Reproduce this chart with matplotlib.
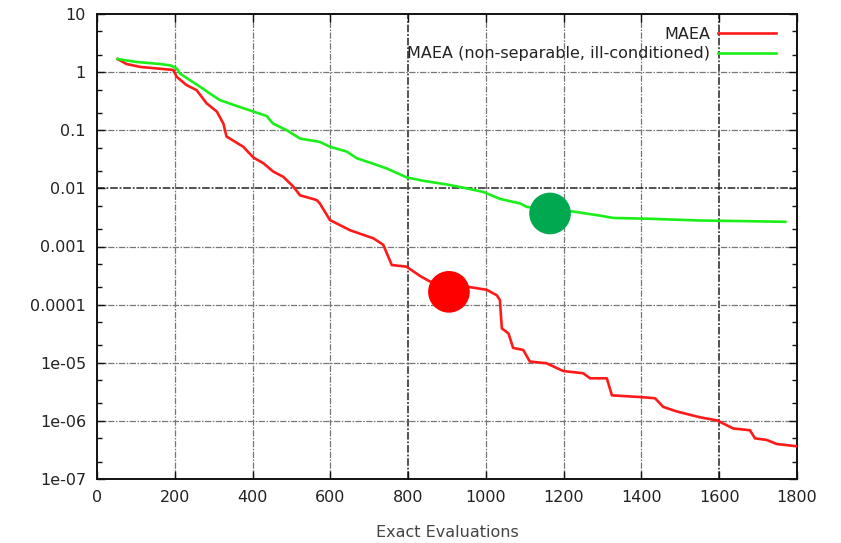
import matplotlib
matplotlib.use("Agg")
import matplotlib.pyplot as plt
from matplotlib.ticker import FixedLocator, NullFormatter

# Convergence traces: best error vs. number of exact evaluations
green_x = [53, 100, 162, 190, 205, 213, 240, 265, 290, 316, 340, 368, 402, 436, 453,
           488, 522, 573, 599, 642, 668, 700, 745, 796, 839, 899, 951, 993, 1036,
           1088, 1105, 1160, 1224, 1293, 1327, 1422, 1550, 1636, 1770]
green_y = [1.68, 1.5, 1.38, 1.3, 1.16, 0.95, 0.72, 0.56, 0.43, 0.33, 0.29, 0.25, 0.21,
           0.176, 0.13, 0.10, 0.072, 0.063, 0.052, 0.043, 0.033, 0.028, 0.022, 0.0155,
           0.0135, 0.0117, 0.010, 0.0087, 0.0066, 0.0055, 0.0048, 0.0043, 0.0040,
           0.0034, 0.0031, 0.0030, 0.0028, 0.00275, 0.00266]

red_x = [53, 76, 111, 196, 205, 230, 256, 282, 308, 325, 333, 376, 402, 428, 453, 479,
         505, 522, 565, 573, 599, 651, 711, 736, 758, 796, 831, 856, 959, 1002, 1028,
         1036, 1041, 1058, 1070, 1096, 1113, 1156, 1199, 1250, 1268, 1311, 1324, 1396,
         1435, 1456, 1491, 1551, 1594, 1636, 1679, 1692, 1722, 1748, 1800]
red_y = [1.68, 1.38, 1.23, 1.09, 0.83, 0.60, 0.49, 0.29, 0.21, 0.13, 0.078, 0.052,
         0.034, 0.027, 0.0195, 0.0158, 0.0107, 0.0076, 0.0063, 0.0055, 0.00285, 0.0019,
         0.00138, 0.00107, 0.00048, 0.00045, 0.00031, 0.00025, 0.0002, 0.00018,
         0.000145, 0.00012, 3.9e-5, 3.2e-5, 1.8e-5, 1.66e-5, 1.05e-5, 9.8e-6, 7.2e-6,
         6.6e-6, 5.4e-6, 5.4e-6, 2.75e-6, 2.57e-6, 2.45e-6, 1.74e-6, 1.45e-6, 1.15e-6,
         1.02e-6, 7.4e-7, 6.9e-7, 5.0e-7, 4.7e-7, 4.0e-7, 3.65e-7]

# Highlighted points
dot_x = [905, 1165]
dot_y = [1.66e-4, 3.7e-3]

series_labels = ["MAEA", "MAEA (non-separable, ill-conditioned)"]
x_ticks = [0, 200, 400, 600, 800, 1000, 1200, 1400, 1600, 1800]
y_ticks = [1e-7, 1e-6, 1e-5, 1e-4, 1e-3, 1e-2, 1e-1, 1, 10]
y_tick_labels = ["1e-07", "1e-06", "1e-05", "0.0001", "0.001", "0.01", "0.1", "1", "10"]
x_label = "Exact Evaluations"

plt.rcParams["font.family"] = ["DejaVu Sans"]
fig = plt.figure(figsize=(8.41, 5.43), dpi=100)
ax = fig.add_axes([97 / 841, 1 - 479 / 543, 700 / 841, 465 / 543])

ax.set_yscale("log")
ax.set_xlim(0, 1800)
ax.set_ylim(1e-7, 10)

# grid in dash-dot style
for xv in x_ticks[1:-1]:
    dark = xv in (800, 1600)
    ax.axvline(xv, color="#222" if dark else "#777", lw=1.1 if dark else 0.9,
               ls=(0, (5, 1.2, 1.2, 1.2)), zorder=1)
for yv in y_ticks[1:-1]:
    dark = yv == 1e-2
    ax.axhline(yv, color="#222" if dark else "#777", lw=1.1 if dark else 0.9,
               ls=(0, (5, 1.2, 1.2, 1.2)), zorder=1)

ax.plot(red_x, red_y, color="#ff1a1a", lw=1.9, label=series_labels[0], zorder=3)
ax.plot(green_x, green_y, color="#1aef1a", lw=1.9, label=series_labels[1], zorder=3)

ax.scatter(dot_x, dot_y, s=900, c=["#ff0000", "#00a84f"], linewidths=0, zorder=5)

ax.set_xticks(x_ticks)
ax.set_yticks(y_ticks)
ax.set_yticklabels(y_tick_labels)
ax.yaxis.set_minor_locator(FixedLocator(
    [m * 10.0 ** e for e in range(-7, 1) for m in (2, 5)]))
ax.yaxis.set_minor_formatter(NullFormatter())
ax.xaxis.set_minor_locator(FixedLocator([]))

ax.tick_params(which="both", direction="in", top=True, right=True,
               colors="#111", labelcolor="#222", labelsize=11.5, width=1.0)
ax.tick_params(which="major", length=6, pad=8)
ax.tick_params(which="minor", length=3.5)
for s in ax.spines.values():
    s.set_linewidth(1.4)
    s.set_color("#111")

ax.set_xlabel(x_label, fontsize=11.5, color="#444", labelpad=14)

leg = ax.legend(loc="upper right", bbox_to_anchor=(0.99, 1.004), frameon=False,
                markerfirst=False, handlelength=3.6, handletextpad=0.5,
                labelspacing=0.3, fontsize=11.5)
for t in leg.get_texts():
    t.set_color("#222")

fig.savefig("out.png", dpi=100)
